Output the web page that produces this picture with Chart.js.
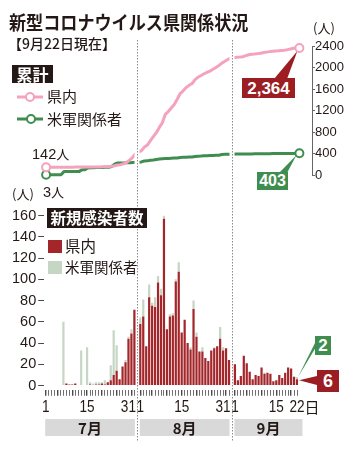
<!DOCTYPE html>
<html lang="ja">
<head>
<meta charset="utf-8">
<title>新型コロナウイルス県関係状況</title>
<script src="https://cdn.jsdelivr.net/npm/chart.js@4.4.1/dist/chart.umd.min.js"></script>
<style>
  html, body { margin: 0; padding: 0; background: #fff; }
  #wrap { position: relative; width: 353px; height: 450px; overflow: hidden;
          font-family: 'Noto Sans CJK JP', sans-serif; color: #231815; }
  #wrap canvas { position: absolute; left: 0; top: 0; }
  .t { position: absolute; white-space: nowrap; line-height: 1; }
  .box { position: absolute; display: flex; align-items: center; justify-content: center;
         color: #fff; font-weight: 700; line-height: 1; }
  .num { font-family: 'Liberation Sans', sans-serif; }
  .sq { position: absolute; width: 14px; height: 13px; }
</style>
</head>
<body>
<div id="wrap">
  <canvas id="barChart" width="353" height="450"></canvas>
  <canvas id="lineChart" width="353" height="450"></canvas>

  <div class="t" style="left:9px;top:12px;font-size:19px;font-weight:700;transform:scaleX(0.9);transform-origin:left top">新型コロナウイルス県関係状況</div>
  <div class="t" style="left:8px;top:36px;font-size:14px;font-weight:500">【9月22日現在】</div>
  <div class="t" style="left:313px;top:21px;font-size:13px">(人)</div>

  <div class="box" style="left:12px;top:65px;width:41px;height:18px;background:#231815;font-size:16px">累計</div>
  <svg class="t" style="left:15px;top:90px" width="30" height="14">
    <line x1="2" y1="7" x2="28" y2="7" stroke="#f4a2bd" stroke-width="3"/>
    <circle cx="15" cy="7" r="4" fill="#fff" stroke="#f4a2bd" stroke-width="2"/>
  </svg>
  <div class="t" style="left:47px;top:88px;font-size:15px">県内</div>
  <svg class="t" style="left:15px;top:112px" width="30" height="14">
    <line x1="2" y1="7" x2="28" y2="7" stroke="#3f8d4f" stroke-width="3"/>
    <circle cx="16" cy="7" r="4" fill="#fff" stroke="#3f8d4f" stroke-width="2"/>
  </svg>
  <div class="t" style="left:47px;top:111px;font-size:15px">米軍関係者</div>

  <div class="t" style="left:32px;top:144px"><span class="num" style="font-size:14.5px">142</span><span style="font-size:13px">人</span></div>
  <div class="t" style="left:43px;top:182px"><span class="num" style="font-size:14.5px">3</span><span style="font-size:13px">人</span></div>
  <div class="t" style="left:12px;top:187px;font-size:13px">(人)</div>

  <div class="box num" style="left:242px;top:78px;width:53px;height:20px;background:#9c1d22;font-size:17px">2,364</div>
  <div class="box num" style="left:257px;top:172px;width:31px;height:18px;background:#3f8d4f;font-size:16px">403</div>

  <div class="box" style="left:47px;top:208px;width:100px;height:20px;background:#231815;font-size:15.5px">新規感染者数</div>
  <div class="sq" style="left:48px;top:240px;background:#a3262a"></div>
  <div class="t" style="left:65px;top:238px;font-size:15.5px">県内</div>
  <div class="sq" style="left:48px;top:261px;background:#c5d7c4"></div>
  <div class="t" style="left:65px;top:260px;font-size:14.5px">米軍関係者</div>

  <div class="box num" style="left:315px;top:336px;width:16px;height:19px;background:#3f8d4f;font-size:17px">2</div>
  <div class="box num" style="left:317px;top:370px;width:22px;height:22px;background:#9c1d22;font-size:18px">6</div>
</div>

<script>
// months on the x axis (Jul 1 - Sep 22)
const monthNames = ['7月', '8月', '9月'];
const monthLengths = [31, 31, 22];
const tickDays = [[1, 15, 31], [1, 15, 31], [1, 15, 22]];
const barTicks = [0, 20, 40, 60, 80, 100, 120, 140, 160];
const lineTicks = [0, 400, 800, 1200, 1600, 2000, 2400];

// new cases per day, prefecture residents
const julPref = [0,0,0,0,0,0,0,2,1,1,2,0,0,0,0,1,0,1,1,2,1,3,5,10,14,6,18,22,44,49,71];
const augPref = [58,65,37,83,75,74,97,85,157,53,65,66,98,107,50,62,40,34,72,46,32,32,26,23,33,35,37,44,33,35,24];
const sepPref = [20,5,9,28,21,13,6,10,9,17,11,12,11,4,5,10,7,12,17,16,8,6];

// new cases per day, US military related
const julUS = [0,0,0,0,0,0,60,0,0,0,0,0,33,0,36,2,2,2,2,1,4,0,14,42,24,0,0,2,2,4,1];
const augUS = [6,16,0,12,3,9,6,6,3,0,2,2,2,9,0,0,0,2,8,4,0,4,0,0,0,1,0,11,3,0,0];
const sepUS = [0,0,0,0,0,0,0,0,0,0,1,0,0,0,0,0,0,0,0,0,1,2];

// cumulative totals
const julPrefTotal = [142,142,142,142,142,142,142,144,145,146,148,148,148,148,148,149,149,150,151,153,154,157,162,172,186,192,210,232,276,325,396];
const augPrefTotal = [454,519,556,639,714,788,885,970,1127,1180,1245,1311,1409,1516,1566,1628,1668,1702,1774,1820,1852,1884,1910,1933,1966,2001,2038,2082,2115,2150,2174];
const sepPrefTotal = [2189,2193,2200,2221,2237,2247,2251,2258,2265,2278,2286,2295,2303,2306,2310,2318,2323,2332,2345,2357,2361,2364];
const julUSTotal = [3,3,3,3,3,3,63,63,63,63,63,63,96,96,132,134,136,138,140,141,145,145,159,201,225,225,225,227,229,233,236];
const augUSTotal = [244,262,263,276,280,290,297,304,308,309,312,315,318,327,329,331,333,336,345,350,352,357,359,361,364,367,369,380,384,386,388];
const sepUSTotal = [389,390,391,392,393,393,394,394,395,396,397,397,398,398,399,399,400,400,400,401,401,403];

const NUM = "'Liberation Sans', sans-serif";
const JP = "'Noto Sans CJK JP', sans-serif";
const INK = '#231815', RED = '#a3262a', PALE = '#c5d7c4', PINK = '#f4a2bd', GREEN = '#3f8d4f';

// one empty slot between months
const slotLabels = [];
const monthStart = [];
monthLengths.forEach((n, m) => {
  if (m > 0) slotLabels.push('');
  monthStart.push(slotLabels.length);
  for (let d = 1; d <= n; d++) slotLabels.push(String(d));
});
const lastSlot = slotLabels.length - 1;
const withGaps = (...months) => months.flatMap((arr, m) => m > 0 ? [null, ...arr] : arr);
const toPoints = (...months) => months.flatMap((arr, m) => arr.map((v, i) => ({ x: monthStart[m] + i, y: v })));

function wedge(ctx, pts, color) {
  ctx.save();
  ctx.fillStyle = color;
  ctx.beginPath();
  ctx.moveTo(pts[0][0], pts[0][1]);
  pts.slice(1).forEach(p => ctx.lineTo(p[0], p[1]));
  ctx.closePath();
  ctx.fill();
  ctx.restore();
}

// narrow digits: squeeze the text horizontally around its anchor
function narrowText(ctx, s, x, y, align) {
  ctx.save();
  ctx.translate(x, y);
  ctx.scale(0.8, 1);
  ctx.textAlign = align;
  ctx.fillText(s, 0, 0);
  ctx.restore();
}

const barDecor = {
  id: 'barDecor',
  afterDatasetsDraw(chart) {
    const ctx = chart.ctx, x = chart.scales.x;
    const w = x.getPixelForValue(1) - x.getPixelForValue(0);
    ctx.save();
    // month bands
    monthNames.forEach((name, m) => {
      const l = x.getPixelForValue(monthStart[m]) - w / 2 + 1;
      const r = x.getPixelForValue(monthStart[m] + monthLengths[m] - 1) + w / 2 - 1 + (m === 2 ? 5 : 0);
      ctx.fillStyle = '#d9d9d9';
      ctx.fillRect(l, 419, r - l, 17);
      ctx.fillStyle = INK;
      ctx.font = `bold 15px ${JP}`;
      ctx.textAlign = 'center';
      ctx.textBaseline = 'middle';
      ctx.fillText(name, (l + r) / 2, 428);
    });
    // day labels
    ctx.fillStyle = INK;
    ctx.textBaseline = 'middle';
    tickDays.forEach((days, m) => {
      days.forEach(d => {
        const px = x.getPixelForValue(monthStart[m] + d - 1);
        const s = String(d);
        ctx.font = `17px ${NUM}`;
        if (m === 2 && d === monthLengths[2]) {
          const tw = ctx.measureText(s).width * 0.8;
          narrowText(ctx, s, px - tw / 2, 407, 'left');
          ctx.font = `15px ${JP}`;
          ctx.textAlign = 'left';
          ctx.fillText('日', px + tw / 2, 407);
        } else {
          narrowText(ctx, s, px + (d === monthLengths[m] ? -6 : 0), 407, 'center');
        }
      });
    });
    ctx.restore();
    // pointers to the last bars
    const r = chart.getDatasetMeta(0).data[lastSlot];
    const g = chart.getDatasetMeta(1).data[lastSlot];
    wedge(ctx, [[317, 376], [317, 385], [r.x + 2, r.y + 1]], '#9c1d22');
    wedge(ctx, [[316, 341], [316, 347], [g.x + 1, g.y]], GREEN);
  }
};

const barChart = new Chart(document.getElementById('barChart'), {
  type: 'bar',
  data: {
    labels: slotLabels,
    datasets: [
      { label: '県内', data: withGaps(julPref, augPref, sepPref), backgroundColor: RED },
      { label: '米軍関係者', data: withGaps(julUS, augUS, sepUS), backgroundColor: PALE }
    ]
  },
  options: {
    responsive: false,
    animation: false,
    layout: { padding: { left: 0, top: 215.5, right: 54.5, bottom: 0 } },
    datasets: { bar: { barPercentage: 0.75, categoryPercentage: 1 } },
    plugins: { legend: { display: false }, tooltip: { enabled: false } },
    scales: {
      x: {
        stacked: true,
        afterFit: s => { s.height = 60.25; },
        border: { display: false },
        ticks: { display: false },
        grid: {
          offset: false,
          drawOnChartArea: false,
          tickLength: 6,
          color: c => slotLabels[c.index] ? '#4a4a4a' : 'rgba(0,0,0,0)',
          lineWidth: c => {
            const d = +slotLabels[c.index];
            return d === 1 || d % 5 === 0 ? 1.4 : 0.8;
          }
        }
      },
      y: {
        stacked: true,
        min: -4,
        max: 160,
        afterBuildTicks: s => { s.ticks = barTicks.map(v => ({ value: v })); },
        afterFit: s => { s.width = 44.2; },
        border: { display: false },
        grid: { drawOnChartArea: false, tickLength: 6, color: '#4a4a4a' },
        ticks: { autoSkip: false, font: { family: NUM, size: 14.5 }, color: INK, padding: 2, callback: v => String(v) }
      }
    }
  },
  plugins: [barDecor]
});

const lineDecor = {
  id: 'lineDecor',
  beforeDatasetsDraw(chart) {
    const ctx = chart.ctx;
    const p = chart.getDatasetMeta(0).data;
    const g = chart.getDatasetMeta(1).data;
    const pe = p[p.length - 1], ge = g[g.length - 1];
    wedge(ctx, [[274, 79], [287, 79], [pe.x - 2, pe.y + 3]], '#9c1d22');
    wedge(ctx, [[279, 173], [287, 173], [ge.x - 3, ge.y + 2]], GREEN);
  },
  afterDatasetsDraw(chart) {
    const ctx = chart.ctx, bx = barChart.scales.x;
    ctx.save();
    [monthStart[1] - 1, monthStart[2] - 1].forEach(slot => {
      const px = Math.round(bx.getPixelForValue(slot));
      ctx.fillStyle = '#fff';
      ctx.fillRect(px - 2.5, 40, 5, 142);
      ctx.strokeStyle = '#8a8a8a';
      ctx.lineWidth = 1;
      ctx.setLineDash([1.5, 1.5]);
      ctx.beginPath();
      ctx.moveTo(px + 0.5, 40);
      ctx.lineTo(px + 0.5, 441);
      ctx.stroke();
    });
    ctx.restore();
  }
};

const endRadius = c => (c.dataIndex === 0 || c.dataIndex === c.dataset.data.length - 1) ? 4 : 0;

const lineChart = new Chart(document.getElementById('lineChart'), {
  type: 'line',
  data: {
    datasets: [
      { label: '県内', data: toPoints(julPrefTotal, augPrefTotal, sepPrefTotal),
        borderColor: PINK, borderWidth: 3, pointRadius: endRadius, pointBackgroundColor: '#fff',
        pointBorderColor: PINK, pointBorderWidth: 2, clip: false, borderJoinStyle: 'round' },
      { label: '米軍関係者', data: toPoints(julUSTotal, augUSTotal, sepUSTotal),
        borderColor: GREEN, borderWidth: 3, pointRadius: endRadius, pointBackgroundColor: '#fff',
        pointBorderColor: GREEN, pointBorderWidth: 2, clip: false, borderJoinStyle: 'round' }
    ]
  },
  options: {
    responsive: false,
    animation: false,
    layout: { padding: { left: 44.6, top: 46, right: 0, bottom: 275 } },
    plugins: { legend: { display: false }, tooltip: { enabled: false } },
    scales: {
      x: { type: 'linear', display: false, min: -0.5, max: -0.5 + (312 - 44.6) / 2.98 },
      y: {
        position: 'right',
        min: 0,
        max: 2400,
        afterBuildTicks: s => { s.ticks = lineTicks.map(v => ({ value: v })); },
        afterFit: s => { s.width = 41; },
        border: { display: true, color: '#666', width: 1 },
        grid: { drawOnChartArea: false, tickLength: 3, color: '#666' },
        ticks: { autoSkip: false, font: { family: NUM, size: 13 }, color: INK, padding: 0, callback: v => String(v) }
      }
    }
  },
  plugins: [lineDecor]
});
</script>
</body>
</html>
